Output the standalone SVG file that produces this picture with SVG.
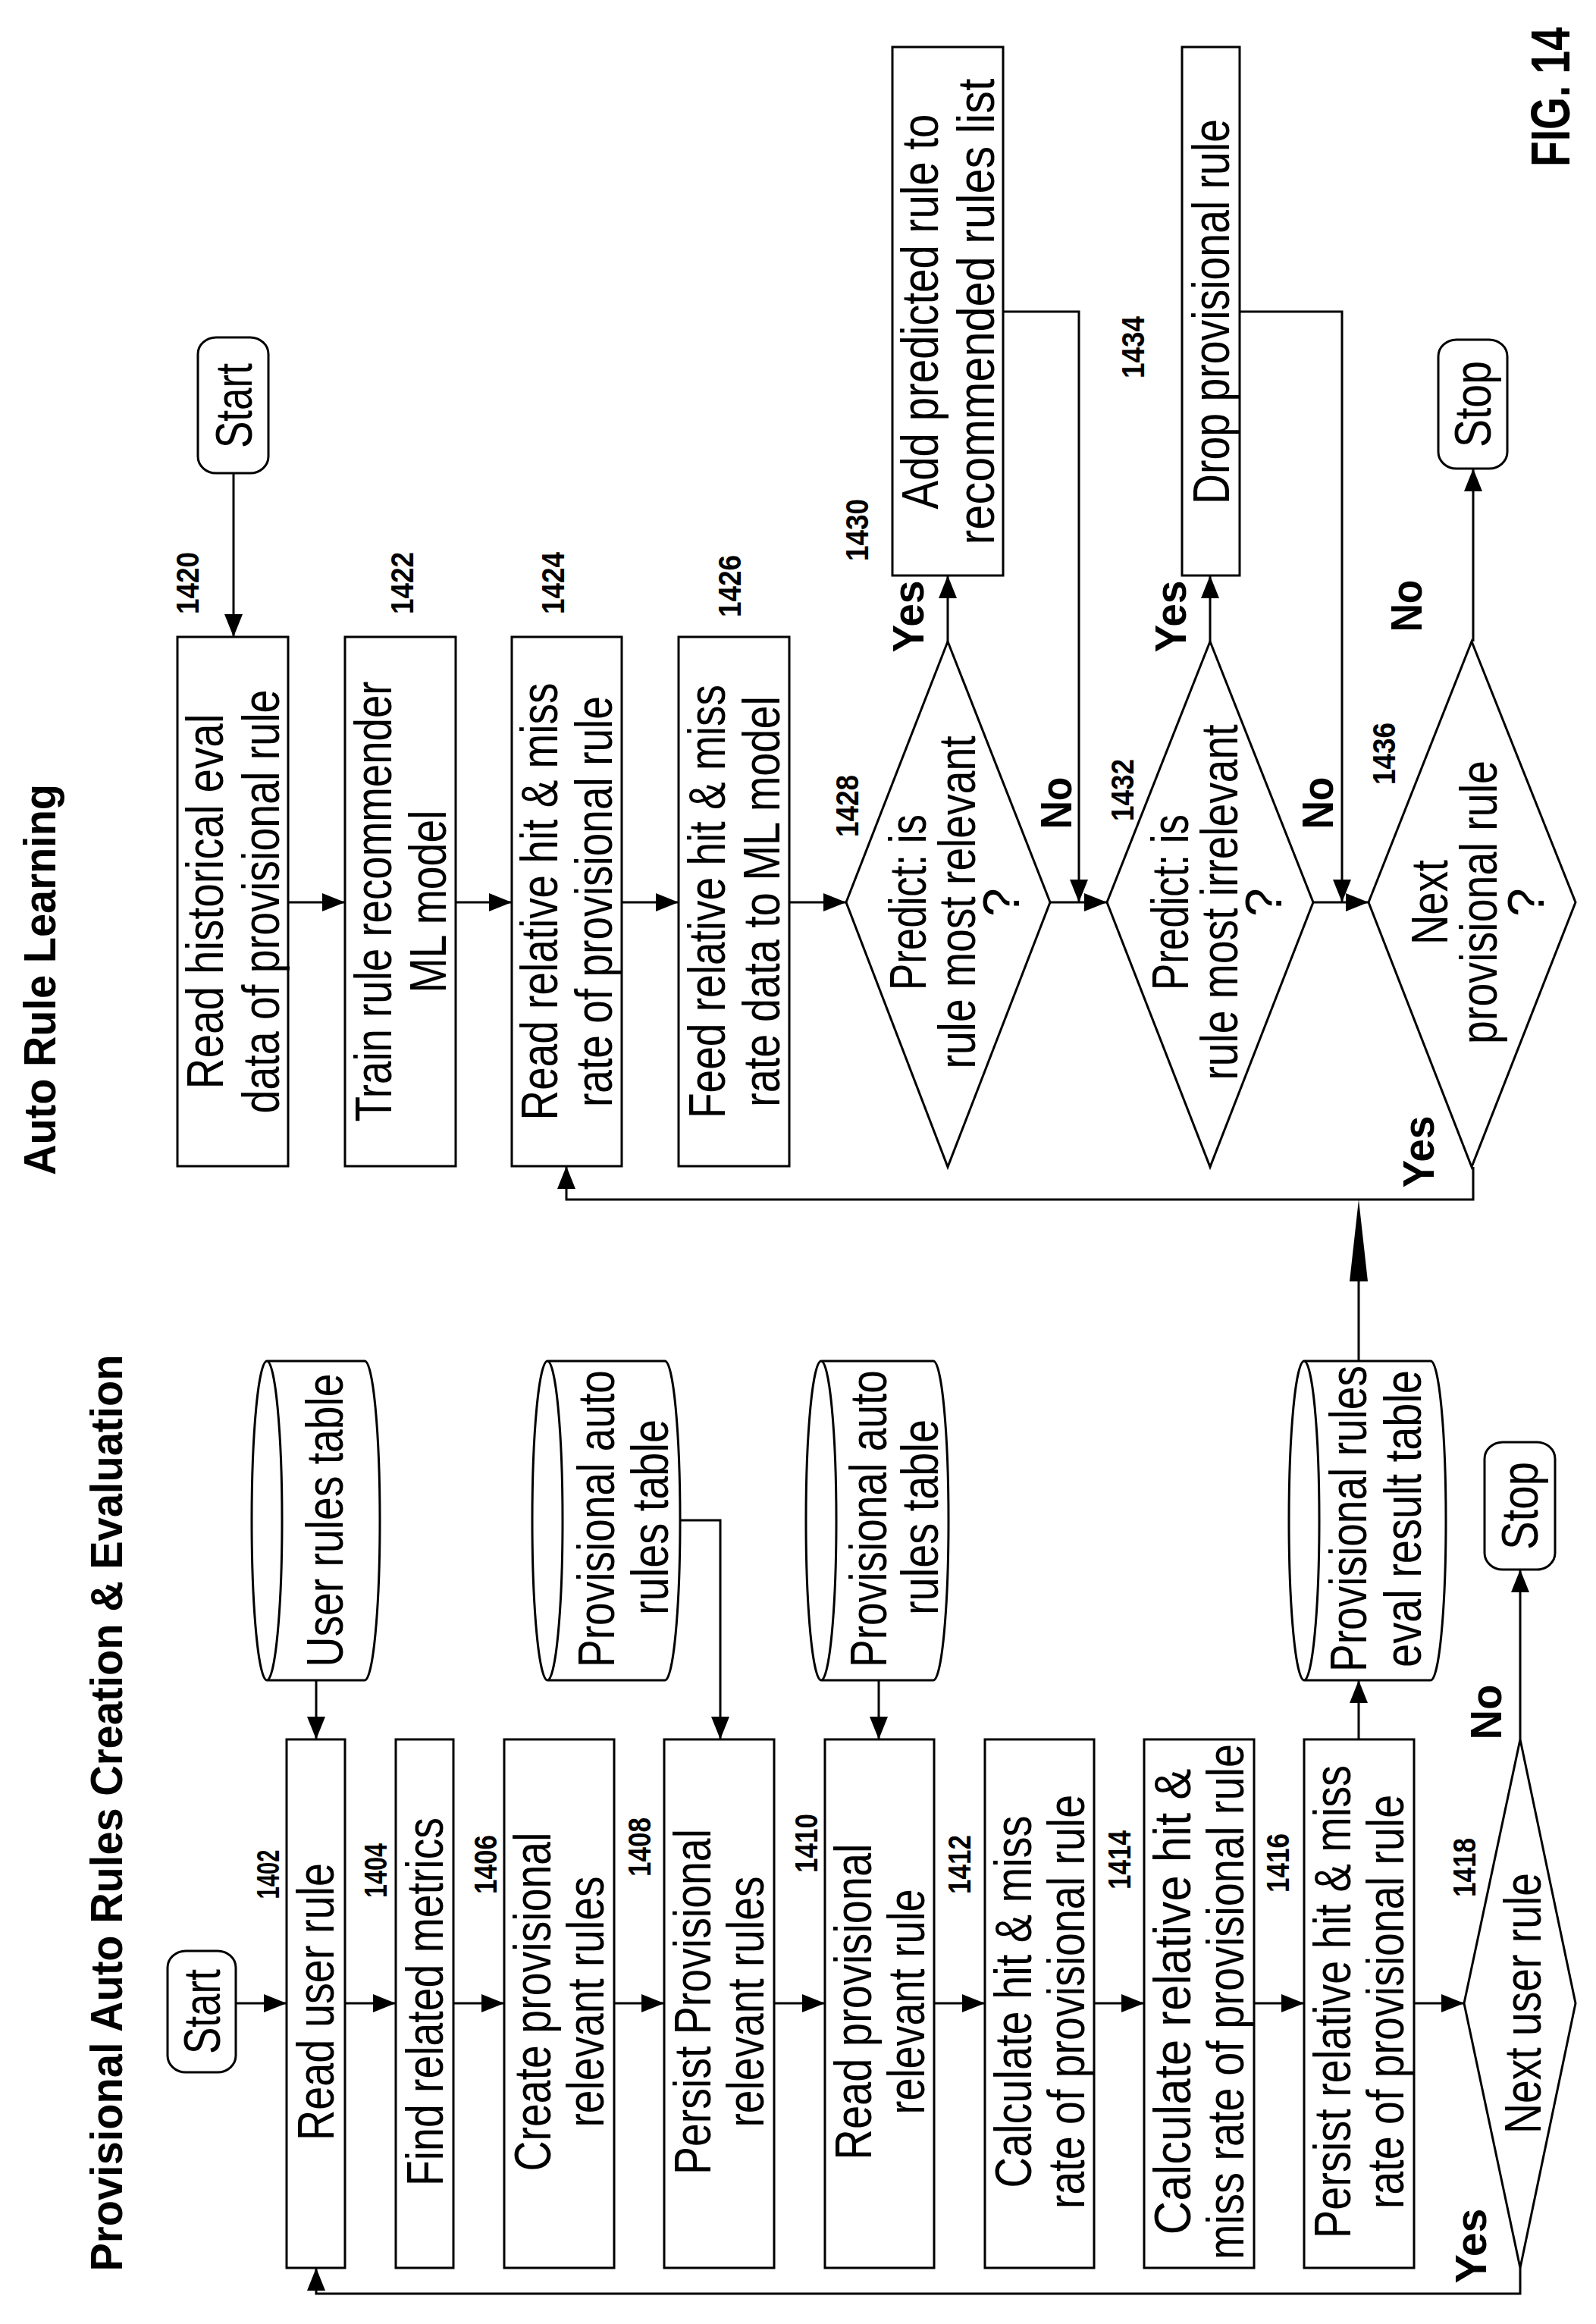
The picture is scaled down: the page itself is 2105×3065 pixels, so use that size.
<svg xmlns="http://www.w3.org/2000/svg" width="2105" height="3065" viewBox="0 0 2105 3065">
<style>
.s{fill:#fff;stroke:#000;stroke-width:3}
.c{fill:none;stroke:#000;stroke-width:3}
text{font-family:"Liberation Sans",Arial,sans-serif;text-anchor:middle;dominant-baseline:central;fill:#000}
.t{font-size:68px}
.n{font-size:42px;font-weight:bold}
.b{font-size:58px;font-weight:bold}
.h{font-size:60px;font-weight:bold}
</style>
<defs>
<marker id="a" markerUnits="userSpaceOnUse" markerWidth="32" markerHeight="24" refX="30" refY="12" orient="auto"><path d="M0,0 L30,12 L0,24 Z" fill="#000"/></marker>
</defs>
<rect width="2105" height="3065" fill="#fff"/>
<text class="h" transform="translate(140 2391) rotate(-90)" textLength="1209" lengthAdjust="spacingAndGlyphs">Provisional Auto Rules Creation &amp; Evaluation</text>
<text class="h" transform="translate(52 1292) rotate(-90)" textLength="516" lengthAdjust="spacingAndGlyphs">Auto Rule Learning</text>
<text class="h" style="font-size:72px" transform="translate(2045 128) rotate(-90)" textLength="184" lengthAdjust="spacingAndGlyphs">FIG. 14</text>
<g id="connectors">
<path class="c" marker-end="url(#a)" d="M311,2642 H378"/>
<path class="c" marker-end="url(#a)" d="M455,2642 H522"/>
<path class="c" marker-end="url(#a)" d="M598,2642 H665"/>
<path class="c" marker-end="url(#a)" d="M810,2642 H876"/>
<path class="c" marker-end="url(#a)" d="M1021,2642 H1088"/>
<path class="c" marker-end="url(#a)" d="M1232,2642 H1299"/>
<path class="c" marker-end="url(#a)" d="M1443,2642 H1509"/>
<path class="c" marker-end="url(#a)" d="M1654,2642 H1720"/>
<path class="c" marker-end="url(#a)" d="M1865,2642 H1931"/>
<path class="c" marker-end="url(#a)" d="M417,2216 V2294"/>
<path class="c" marker-end="url(#a)" d="M897,2005 H950 V2294"/>
<path class="c" marker-end="url(#a)" d="M1159,2216 V2294"/>
<path class="c" marker-end="url(#a)" d="M1792,2294 V2216"/>
<path class="c" marker-end="url(#a)" d="M2005,2294 V2070"/>
<path class="c" marker-end="url(#a)" d="M2005,2991 V3025 H417 V2991"/>
<path class="c" d="M1792,1795 V1680"/>
<path d="M1792,1582 L1804,1690 L1780,1690 Z" fill="#000"/>
<path class="c" marker-end="url(#a)" d="M308,624 V840"/>
<path class="c" marker-end="url(#a)" d="M380,1190 H455"/>
<path class="c" marker-end="url(#a)" d="M601,1190 H675"/>
<path class="c" marker-end="url(#a)" d="M820,1190 H895"/>
<path class="c" marker-end="url(#a)" d="M1041,1190 H1116"/>
<path class="c" marker-end="url(#a)" d="M1385,1190 H1460"/>
<path class="c" marker-end="url(#a)" d="M1732,1190 H1805"/>
<path class="c" marker-end="url(#a)" d="M1250,846 V759"/>
<path class="c" marker-end="url(#a)" d="M1596,846 V759"/>
<path class="c" marker-end="url(#a)" d="M1323,411 H1423 V1190"/>
<path class="c" marker-end="url(#a)" d="M1635,411 H1770 V1190"/>
<path class="c" marker-end="url(#a)" d="M1943,846 V618"/>
<path class="c" marker-end="url(#a)" d="M1943,1539 V1582 H747 V1538"/>
<text class="b" transform="translate(1197 813) rotate(-90)" textLength="95" lengthAdjust="spacingAndGlyphs">Yes</text>
<text class="b" transform="translate(1392 1059) rotate(-90)" textLength="69" lengthAdjust="spacingAndGlyphs">No</text>
<text class="b" transform="translate(1543 813) rotate(-90)" textLength="95" lengthAdjust="spacingAndGlyphs">Yes</text>
<text class="b" transform="translate(1737 1059) rotate(-90)" textLength="69" lengthAdjust="spacingAndGlyphs">No</text>
<text class="b" transform="translate(1854 799) rotate(-90)" textLength="69" lengthAdjust="spacingAndGlyphs">No</text>
<text class="b" transform="translate(1870 1519) rotate(-90)" textLength="95" lengthAdjust="spacingAndGlyphs">Yes</text>
<text class="b" transform="translate(1959 2258) rotate(-90)" textLength="73" lengthAdjust="spacingAndGlyphs">No</text>
<text class="b" transform="translate(1939 2962) rotate(-90)" textLength="99" lengthAdjust="spacingAndGlyphs">Yes</text>
</g>
<g id="start1"><rect class="s" x="221" y="2573" width="90" height="160" rx="24" ry="22"/><text class="t" transform="translate(266 2653) rotate(-90)" textLength="112" lengthAdjust="spacingAndGlyphs">Start</text></g>
<g id="n1402"><rect class="s" x="378" y="2294" width="77" height="697"/><text class="t" transform="translate(416 2640) rotate(-90)" textLength="366" lengthAdjust="spacingAndGlyphs">Read user rule</text><text class="n" transform="translate(353 2472) rotate(-90)" textLength="65" lengthAdjust="spacingAndGlyphs">1402</text></g>
<g id="n1404"><rect class="s" x="522" y="2294" width="76" height="697"/><text class="t" transform="translate(560 2640) rotate(-90)" textLength="486" lengthAdjust="spacingAndGlyphs">Find related metrics</text><text class="n" transform="translate(495 2467) rotate(-90)" textLength="72" lengthAdjust="spacingAndGlyphs">1404</text></g>
<g id="n1406"><rect class="s" x="665" y="2294" width="145" height="697"/><text class="t" transform="translate(702 2640) rotate(-90)" textLength="447" lengthAdjust="spacingAndGlyphs">Create provisional</text><text class="t" transform="translate(772 2640) rotate(-90)" textLength="331" lengthAdjust="spacingAndGlyphs">relevant rules</text><text class="n" transform="translate(640 2459) rotate(-90)" textLength="78" lengthAdjust="spacingAndGlyphs">1406</text></g>
<g id="n1408"><rect class="s" x="876" y="2294" width="145" height="697"/><text class="t" transform="translate(913 2640) rotate(-90)" textLength="456" lengthAdjust="spacingAndGlyphs">Persist Provisional</text><text class="t" transform="translate(983 2640) rotate(-90)" textLength="331" lengthAdjust="spacingAndGlyphs">relevant rules</text><text class="n" transform="translate(843 2436) rotate(-90)" textLength="78" lengthAdjust="spacingAndGlyphs">1408</text></g>
<g id="n1410"><rect class="s" x="1088" y="2294" width="144" height="697"/><text class="t" transform="translate(1125 2640) rotate(-90)" textLength="417" lengthAdjust="spacingAndGlyphs">Read provisional</text><text class="t" transform="translate(1195 2640) rotate(-90)" textLength="297" lengthAdjust="spacingAndGlyphs">relevant rule</text><text class="n" transform="translate(1063 2431) rotate(-90)" textLength="78" lengthAdjust="spacingAndGlyphs">1410</text></g>
<g id="n1412"><rect class="s" x="1299" y="2294" width="144" height="697"/><text class="t" transform="translate(1336 2640) rotate(-90)" textLength="491" lengthAdjust="spacingAndGlyphs">Calculate hit &amp; miss</text><text class="t" transform="translate(1406 2640) rotate(-90)" textLength="546" lengthAdjust="spacingAndGlyphs">rate of provisional rule</text><text class="n" transform="translate(1265 2459) rotate(-90)" textLength="78" lengthAdjust="spacingAndGlyphs">1412</text></g>
<g id="n1414"><rect class="s" x="1509" y="2294" width="145" height="697"/><text class="t" transform="translate(1546 2640) rotate(-90)" textLength="615" lengthAdjust="spacingAndGlyphs">Calculate relative hit &amp;</text><text class="t" transform="translate(1616 2640) rotate(-90)" textLength="680" lengthAdjust="spacingAndGlyphs">miss rate of provisional rule</text><text class="n" transform="translate(1476 2453) rotate(-90)" textLength="78" lengthAdjust="spacingAndGlyphs">1414</text></g>
<g id="n1416"><rect class="s" x="1720" y="2294" width="145" height="697"/><text class="t" transform="translate(1757 2640) rotate(-90)" textLength="624" lengthAdjust="spacingAndGlyphs">Persist relative hit &amp; miss</text><text class="t" transform="translate(1827 2640) rotate(-90)" textLength="546" lengthAdjust="spacingAndGlyphs">rate of provisional rule</text><text class="n" transform="translate(1685 2457) rotate(-90)" textLength="78" lengthAdjust="spacingAndGlyphs">1416</text></g>
<g id="n1418"><path class="s" d="M1931,2642 L2005,2294 L2078,2642 L2005,2991 Z"/><text class="t" transform="translate(2008 2642) rotate(-90)" textLength="344" lengthAdjust="spacingAndGlyphs">Next user rule</text><text class="n" transform="translate(1931 2463) rotate(-90)" textLength="78" lengthAdjust="spacingAndGlyphs">1418</text></g>
<g id="stop1"><rect class="s" x="1958" y="1902" width="93" height="168" rx="24" ry="22"/><text class="t" transform="translate(2004 1986) rotate(-90)" textLength="116" lengthAdjust="spacingAndGlyphs">Stop</text></g>
<g id="db_user"><path class="s" d="M352,1795 L481,1795 A20 210.5 0 0 1 481,2216 L352,2216 A20 210.5 0 0 1 352,1795 Z M352,1795 A20 210.5 0 0 1 352,2216"/><text class="t" transform="translate(428 2005) rotate(-90)" textLength="387" lengthAdjust="spacingAndGlyphs">User rules table</text></g>
<g id="db_prov1"><path class="s" d="M722,1795 L877,1795 A20 210.5 0 0 1 877,2216 L722,2216 A20 210.5 0 0 1 722,1795 Z M722,1795 A20 210.5 0 0 1 722,2216"/><text class="t" transform="translate(786 2003) rotate(-90)" textLength="392" lengthAdjust="spacingAndGlyphs">Provisional auto</text><text class="t" transform="translate(857 2001) rotate(-90)" textLength="258" lengthAdjust="spacingAndGlyphs">rules table</text></g>
<g id="db_prov2"><path class="s" d="M1083,1795 L1231,1795 A20 210.5 0 0 1 1231,2216 L1083,2216 A20 210.5 0 0 1 1083,1795 Z M1083,1795 A20 210.5 0 0 1 1083,2216"/><text class="t" transform="translate(1145 2003) rotate(-90)" textLength="392" lengthAdjust="spacingAndGlyphs">Provisional auto</text><text class="t" transform="translate(1213 2001) rotate(-90)" textLength="258" lengthAdjust="spacingAndGlyphs">rules table</text></g>
<g id="db_result"><path class="s" d="M1720,1795 L1887,1795 A20 210.5 0 0 1 1887,2216 L1720,2216 A20 210.5 0 0 1 1720,1795 Z M1720,1795 A20 210.5 0 0 1 1720,2216"/><text class="t" transform="translate(1778 2003) rotate(-90)" textLength="404" lengthAdjust="spacingAndGlyphs">Provisional rules</text><text class="t" transform="translate(1850 2003) rotate(-90)" textLength="392" lengthAdjust="spacingAndGlyphs">eval result table</text></g>
<g id="start2"><rect class="s" x="261" y="445" width="93" height="179" rx="24" ry="22"/><text class="t" transform="translate(308 535) rotate(-90)" textLength="112" lengthAdjust="spacingAndGlyphs">Start</text></g>
<g id="n1420"><rect class="s" x="234" y="840" width="146" height="698"/><text class="t" transform="translate(270 1189) rotate(-90)" textLength="495" lengthAdjust="spacingAndGlyphs">Read historical eval</text><text class="t" transform="translate(344 1189) rotate(-90)" textLength="559" lengthAdjust="spacingAndGlyphs">data of provisional rule</text><text class="n" transform="translate(247 769) rotate(-90)" textLength="82" lengthAdjust="spacingAndGlyphs">1420</text></g>
<g id="n1422"><rect class="s" x="455" y="840" width="146" height="698"/><text class="t" transform="translate(492 1189) rotate(-90)" textLength="581" lengthAdjust="spacingAndGlyphs">Train rule recommender</text><text class="t" transform="translate(564 1189) rotate(-90)" textLength="241" lengthAdjust="spacingAndGlyphs">ML model</text><text class="n" transform="translate(530 769) rotate(-90)" textLength="82" lengthAdjust="spacingAndGlyphs">1422</text></g>
<g id="n1424"><rect class="s" x="675" y="840" width="145" height="698"/><text class="t" transform="translate(711 1189) rotate(-90)" textLength="577" lengthAdjust="spacingAndGlyphs">Read relative hit &amp; miss</text><text class="t" transform="translate(783 1189) rotate(-90)" textLength="542" lengthAdjust="spacingAndGlyphs">rate of provisional rule</text><text class="n" transform="translate(729 769) rotate(-90)" textLength="82" lengthAdjust="spacingAndGlyphs">1424</text></g>
<g id="n1426"><rect class="s" x="895" y="840" width="146" height="698"/><text class="t" transform="translate(932 1189) rotate(-90)" textLength="572" lengthAdjust="spacingAndGlyphs">Feed relative hit &amp; miss</text><text class="t" transform="translate(1004 1189) rotate(-90)" textLength="542" lengthAdjust="spacingAndGlyphs">rate data to ML model</text><text class="n" transform="translate(962 773) rotate(-90)" textLength="82" lengthAdjust="spacingAndGlyphs">1426</text></g>
<g id="n1428"><path class="s" d="M1116,1190 L1250,846 L1385,1190 L1250,1539 Z"/><text class="t" transform="translate(1197 1190) rotate(-90)" textLength="232" lengthAdjust="spacingAndGlyphs">Predict: is</text><text class="t" transform="translate(1262 1190) rotate(-90)" textLength="439" lengthAdjust="spacingAndGlyphs">rule most relevant</text><text class="t" transform="translate(1320 1190) rotate(-90)">?</text><text class="n" transform="translate(1117 1063) rotate(-90)" textLength="82" lengthAdjust="spacingAndGlyphs">1428</text></g>
<g id="n1430"><rect class="s" x="1177" y="62" width="146" height="697"/><text class="t" transform="translate(1213 411) rotate(-90)" textLength="521" lengthAdjust="spacingAndGlyphs">Add predicted rule to</text><text class="t" transform="translate(1287 411) rotate(-90)" textLength="615" lengthAdjust="spacingAndGlyphs">recommended rules list</text><text class="n" transform="translate(1130 699) rotate(-90)" textLength="82" lengthAdjust="spacingAndGlyphs">1430</text></g>
<g id="n1432"><path class="s" d="M1460,1190 L1596,846 L1732,1190 L1596,1539 Z"/><text class="t" transform="translate(1543 1190) rotate(-90)" textLength="232" lengthAdjust="spacingAndGlyphs">Predict: is</text><text class="t" transform="translate(1608 1190) rotate(-90)" textLength="469" lengthAdjust="spacingAndGlyphs">rule most irrelevant</text><text class="t" transform="translate(1666 1190) rotate(-90)">?</text><text class="n" transform="translate(1480 1042) rotate(-90)" textLength="82" lengthAdjust="spacingAndGlyphs">1432</text></g>
<g id="n1434"><rect class="s" x="1559" y="62" width="76" height="697"/><text class="t" transform="translate(1597 411) rotate(-90)" textLength="508" lengthAdjust="spacingAndGlyphs">Drop provisional rule</text><text class="n" transform="translate(1494 458) rotate(-90)" textLength="82" lengthAdjust="spacingAndGlyphs">1434</text></g>
<g id="n1436"><path class="s" d="M1805,1190 L1941,846 L2078,1190 L1941,1539 Z"/><text class="t" transform="translate(1885 1190) rotate(-90)" textLength="112" lengthAdjust="spacingAndGlyphs">Next</text><text class="t" transform="translate(1950 1190) rotate(-90)" textLength="374" lengthAdjust="spacingAndGlyphs">provisional rule</text><text class="t" transform="translate(2012 1190) rotate(-90)">?</text><text class="n" transform="translate(1825 994) rotate(-90)" textLength="82" lengthAdjust="spacingAndGlyphs">1436</text></g>
<g id="stop2"><rect class="s" x="1897" y="448" width="91" height="170" rx="24" ry="22"/><text class="t" transform="translate(1942 533) rotate(-90)" textLength="114" lengthAdjust="spacingAndGlyphs">Stop</text></g>
</svg>
